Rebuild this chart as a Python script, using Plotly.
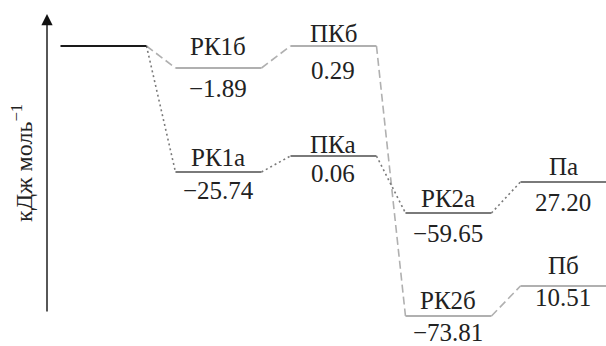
import plotly.graph_objects as go

# ---- data ----
stages = [0, 1, 2, 3, 4]
# diagram levels (vertical placement of each state, as drawn)
level_b = [0, -22, 0, -270, -240]
level_a = [0, -126, -110, -167, -136]
names_b = ["", "РК1б", "ПКб", "РК2б", "Пб"]
names_a = ["", "РК1а", "ПКа", "РК2а", "Па"]
values_b = ["", "−1.89", "0.29", "−73.81", "10.51"]
values_a = ["", "−25.74", "0.06", "−59.65", "27.20"]
y_title = "кДж моль<sup>−1</sup>"

# ---- style ----
HALF = 0.374
FONT = "Liberation Serif"
FS = 25
c_start = "#1a1a1a"
c_a = "#7a7a7a"
c_b = "#b0b0b0"
name_gap_b = [0, 6, -3, 0, 5]
value_gap_b = [0, 5, 9, 1, -4]
name_gap_a = [0, -1, -4, -1, 0]
value_gap_a = [0, 3, 2, 5, 5]

fig = go.Figure()


def level_xy(levels, idx):
    xs, ys = [], []
    for i in idx:
        xs += [stages[i] - HALF, stages[i] + HALF, None]
        ys += [levels[i], levels[i], None]
    return xs, ys


def conn_xy(levels):
    xs, ys = [], []
    for i in range(len(stages) - 1):
        xs += [stages[i] + HALF, stages[i + 1] - HALF, None]
        ys += [levels[i], levels[i + 1], None]
    return xs, ys


# connectors
xs, ys = conn_xy(level_b)
fig.add_trace(go.Scatter(x=xs, y=ys, mode="lines",
                         line=dict(color=c_b, width=1.6, dash="8px,4px")))
xs, ys = conn_xy(level_a)
fig.add_trace(go.Scatter(x=xs, y=ys, mode="lines",
                         line=dict(color=c_a, width=1.6, dash="2px,3px")))

# levels
xs, ys = level_xy(level_b, range(1, 5))
fig.add_trace(go.Scatter(x=xs, y=ys, mode="lines", line=dict(color=c_b, width=2)))
xs, ys = level_xy(level_a, range(1, 5))
fig.add_trace(go.Scatter(x=xs, y=ys, mode="lines", line=dict(color=c_a, width=2)))
xs, ys = level_xy(level_a, [0])
fig.add_trace(go.Scatter(x=xs, y=ys, mode="lines", line=dict(color=c_start, width=2)))

ann = []
for levels, names, vals, ng, vg in [
    (level_b, names_b, values_b, name_gap_b, value_gap_b),
    (level_a, names_a, values_a, name_gap_a, value_gap_a),
]:
    for i in range(1, len(stages)):
        ann.append(dict(x=stages[i], y=levels[i], text=names[i], showarrow=False,
                        xanchor="center", yanchor="bottom", yshift=ng[i],
                        font=dict(family=FONT, size=FS, color="#222")))
        ann.append(dict(x=stages[i], y=levels[i], text=vals[i], showarrow=False,
                        xanchor="center", yanchor="top", yshift=-vg[i],
                        font=dict(family=FONT, size=FS, color="#222")))

# axis arrow
ann.append(dict(xref="paper", yref="paper", x=47 / 606, y=1 - 14 / 346,
                ax=0, ay=299, axref="pixel", ayref="pixel", showarrow=True,
                arrowhead=2, arrowsize=1.6, arrowwidth=1.4, arrowcolor="#111",
                text=""))
ann.append(dict(xref="paper", yref="paper", x=22 / 606, y=1 - 163 / 346,
                text=y_title, textangle=-90, showarrow=False,
                xanchor="center", yanchor="middle",
                font=dict(family=FONT, size=24, color="#222")))

fig.update_layout(
    width=606, height=346, margin=dict(l=0, r=0, t=0, b=0),
    paper_bgcolor="white", plot_bgcolor="white", showlegend=False,
    font=dict(family=FONT),
    xaxis=dict(range=[-0.9, 4.37], visible=False, fixedrange=True),
    yaxis=dict(range=[-300, 46], visible=False, fixedrange=True),
    annotations=ann,
)

fig.write_html("out.html", config={"displayModeBar": False},
               post_script="document.body.style.margin='0';")
